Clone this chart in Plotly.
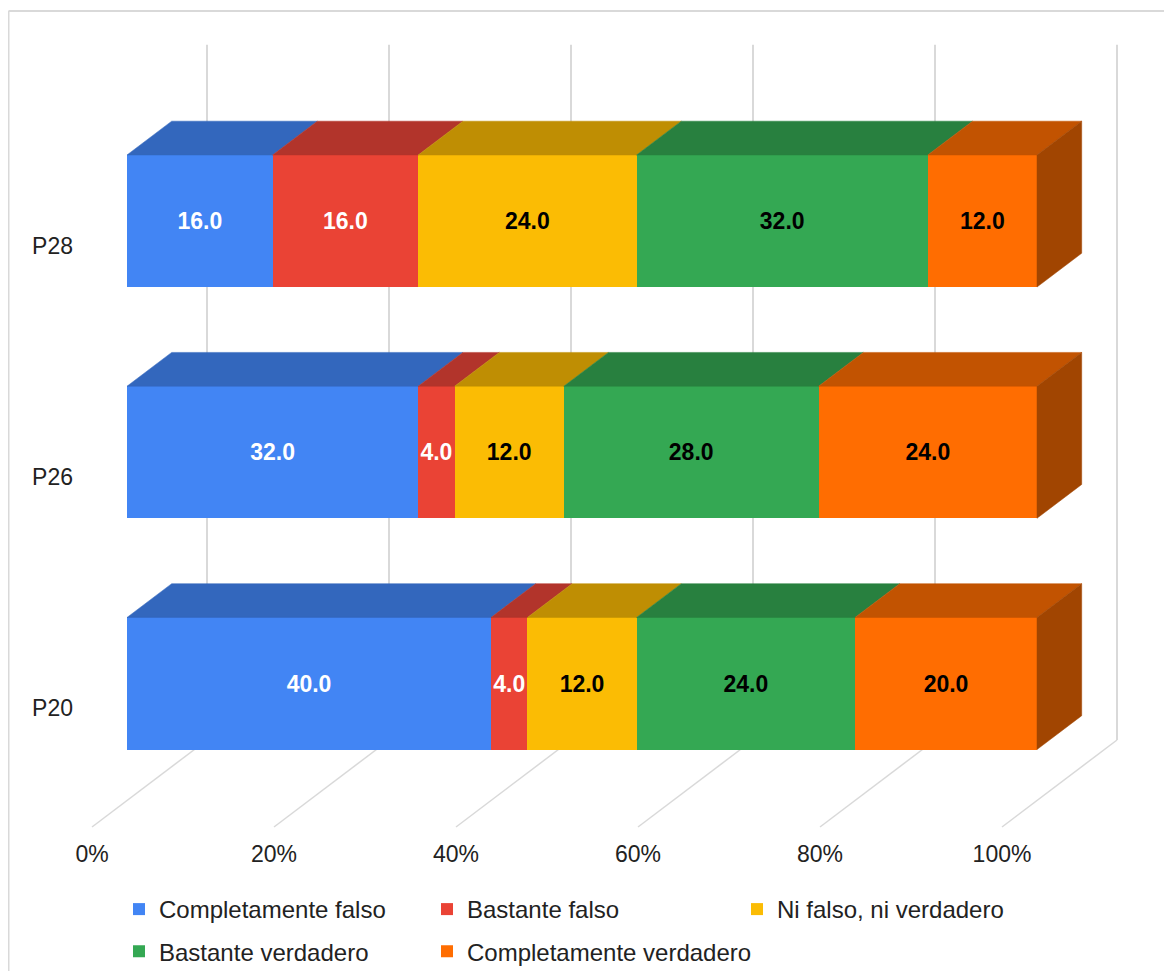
import plotly.graph_objects as go

# ---------------- data ----------------
categories = ["P20", "P26", "P28"]
series_names = [
    "Completamente falso",
    "Bastante falso",
    "Ni falso, ni verdadero",
    "Bastante verdadero",
    "Completamente verdadero",
]
completamente_falso = [40.0, 32.0, 16.0]
bastante_falso = [4.0, 4.0, 16.0]
ni_falso_ni_verdadero = [12.0, 12.0, 24.0]
bastante_verdadero = [24.0, 28.0, 32.0]
completamente_verdadero = [20.0, 24.0, 12.0]
series_values = [completamente_falso, bastante_falso, ni_falso_ni_verdadero,
                 bastante_verdadero, completamente_verdadero]
x_ticks = [0, 20, 40, 60, 80, 100]
x_tick_labels = ["0%", "20%", "40%", "60%", "80%", "100%"]

# ---------------- style ----------------
front_colors = ["#4285F4", "#EA4335", "#FBBC04", "#34A853", "#FF6D01"]
top_colors = ["#3367BD", "#B2342B", "#BF8E03", "#28803F", "#C25301"]
side_colors = ["#2A549C", "#932A23", "#9E7602", "#216934", "#A14501"]
label_colors = ["#FFFFFF", "#FFFFFF", "#000000", "#000000", "#000000"]
FONT = "Liberation Sans, Arial, sans-serif"

BAR_W = 0.571           # bar thickness (category units)
DX, DY = 4.912, 0.1462  # oblique offset of full bar depth (x %, y units)
T_BACK = 1.79           # back wall depth (multiples of bar depth)
T_FRONT = -0.783        # front edge of the floor
FLOOR_Y = -0.506
WALL_TOP = 2.5

W, H = 1156, 963
ML, MB = 66, 133
PLOT_W, PLOT_H = W - ML, H - MB

ypos = list(range(len(categories)))
legend_ids = ["legend", "legend2", "legend3", "legend4", "legend5"]
legend_text_x = [151, 459, 769, 151, 459]   # px from left (text start)
legend_row_y = [901.5, 901.5, 901.5, 943.7, 943.7]

fig = go.Figure()

# front faces
for i, (name, vals) in enumerate(zip(series_names, series_values)):
    fig.add_trace(go.Bar(
        y=ypos, x=vals, name=name, orientation="h", width=BAR_W,
        marker=dict(color=front_colors[i], line=dict(width=0)),
        text=[f"{v:.1f}" for v in vals], textposition="inside",
        insidetextanchor="middle", constraintext="none", textangle=0,
        textfont=dict(family=FONT, size=23, color=label_colors[i], weight="bold"),
        hoverinfo="skip",
        legend=legend_ids[i],
    ))

# top faces and end faces
for j, yc in enumerate(ypos):
    start = 0.0
    top = yc + BAR_W / 2
    bot = yc - BAR_W / 2
    for i, vals in enumerate(series_values):
        a, b = start, start + vals[j]
        fig.add_trace(go.Scatter(
            x=[a, b, b + DX, a + DX, a], y=[top, top, top + DY, top + DY, top],
            mode="lines", fill="toself", fillcolor=top_colors[i],
            line=dict(width=0.5, color=top_colors[i]),
            hoverinfo="skip", showlegend=False))
        start = b
    last = len(series_values) - 1
    fig.add_trace(go.Scatter(
        x=[start, start + DX, start + DX, start, start],
        y=[bot, bot + DY, top + DY, top, bot],
        mode="lines", fill="toself", fillcolor=side_colors[last],
        line=dict(width=0.5, color=side_colors[last]),
        hoverinfo="skip", showlegend=False))

shapes = []
grid_col = "#D9D9D9"
for v in x_ticks:
    bx = v + DX * T_BACK
    by = FLOOR_Y + DY * T_BACK
    shapes.append(dict(type="line", layer="below", xref="x", yref="y",
                       x0=bx, x1=bx, y0=by, y1=WALL_TOP + DY * T_BACK,
                       line=dict(color=grid_col, width=2)))
    shapes.append(dict(type="line", layer="below", xref="x", yref="y",
                       x0=bx, y0=by, x1=v + DX * T_FRONT, y1=FLOOR_Y + DY * T_FRONT,
                       line=dict(color=grid_col, width=1.5)))
# outer border (left and top edges)
bx_p = (0.5 - ML) / PLOT_W
ty_p = (PLOT_H - 3) / PLOT_H
shapes.append(dict(type="line", xref="paper", yref="paper", x0=bx_p, x1=1.05,
                   y0=ty_p, y1=ty_p, line=dict(color="#D9D9D9", width=2)))
shapes.append(dict(type="line", xref="paper", yref="paper", x0=bx_p, x1=bx_p,
                   y0=ty_p, y1=-0.3, line=dict(color="#D9D9D9", width=2)))

x0 = (ML - 119) / 9.1
y0 = -(PLOT_H - 675.5) / 231.25

layout_legends = {}
for k, lid in enumerate(legend_ids):
    layout_legends[lid] = dict(
        orientation="h", xref="container", yref="container",
        x=(legend_text_x[k] - 40) / W, y=1 - legend_row_y[k] / H,
        xanchor="left", yanchor="middle",
        font=dict(size=24, color="#222222"), bgcolor="rgba(0,0,0,0)")

fig.update_layout(
    width=W, height=H,
    barmode="stack",
    paper_bgcolor="white", plot_bgcolor="white",
    margin=dict(l=ML, r=0, t=0, b=MB, autoexpand=False),
    font=dict(family=FONT, color="#222222"),
    shapes=shapes,
    xaxis=dict(range=[x0, x0 + PLOT_W / 9.1], showgrid=False, zeroline=False, showline=False,
               ticks="", tickvals=[v + DX * T_FRONT for v in x_ticks], ticktext=x_tick_labels,
               tickfont=dict(size=23, color="#222222"), fixedrange=True),
    yaxis=dict(range=[y0, y0 + PLOT_H / 231.25], showgrid=False, zeroline=False, showline=False,
               ticks="", tickvals=[p - 0.106 for p in ypos], ticktext=categories,
               tickfont=dict(size=23, color="#222222"), fixedrange=True),
    showlegend=True,
    **layout_legends,
)

fig.write_html("out.html")
